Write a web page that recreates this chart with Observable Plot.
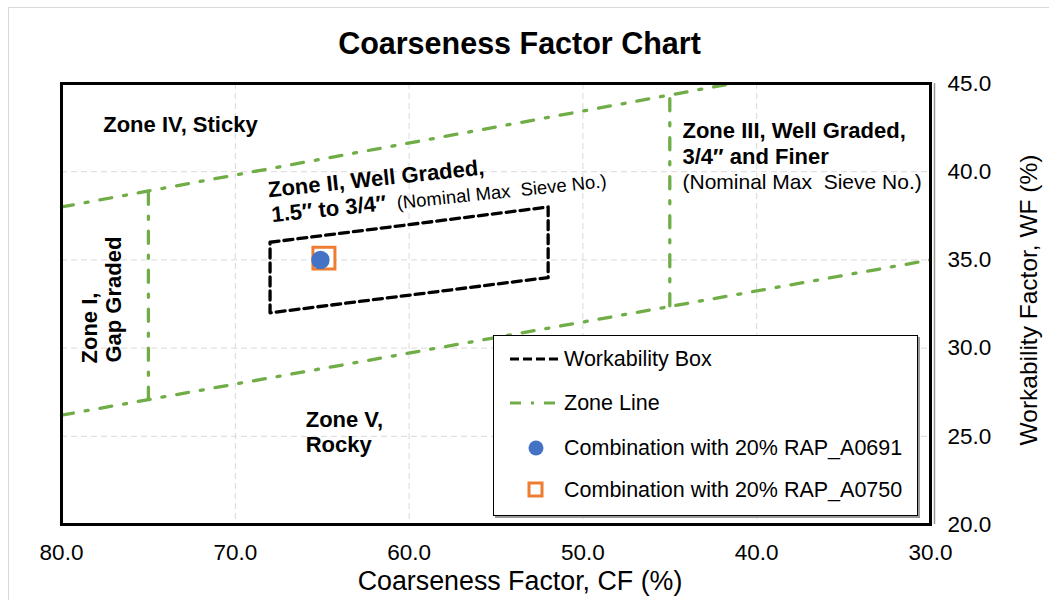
<!DOCTYPE html>
<html>
<head>
<meta charset="utf-8">
<script src="https://cdn.jsdelivr.net/npm/d3@7"></script>
<script src="https://cdn.jsdelivr.net/npm/@observablehq/plot@0.6"></script>
<style>
  html, body { margin: 0; padding: 0; background: #fff; }
  #wrap { position: relative; width: 1049px; height: 600px; overflow: hidden; font-family: 'Liberation Sans', Arial, sans-serif; }
  #outer { position: absolute; left: 8px; top: 7px; width: 1060px; height: 620px; border: 1px solid #d9d9d9; box-sizing: border-box; pointer-events: none; }
  #legend { position: absolute; left: 493px; top: 335px; width: 425px; height: 181px; box-sizing: border-box; border: 1.5px solid #000; background: #fff; box-shadow: 2px 2px 0 #999; }
  .lrow { position: absolute; left: 15px; height: 30px; display: flex; align-items: center; font-size: 21.5px; color: #000; white-space: nowrap; }
  .lrow svg { flex: none; margin-right: 3px; }
</style>
</head>
<body>
<div id="wrap">
  <div id="outer"></div>
  <div id="chart"></div>
  <div id="legend"></div>
</div>
<script>
// ---------- data ----------
const xTicks = [80, 70, 60, 50, 40, 30];
const yTicks = [20, 25, 30, 35, 40, 45];

// Workability box (CF, WF)
const boxCF = [68, 52, 52, 68, 68];
const boxWF = [36, 38, 34, 32, 36];

// Zone lines, each a segment
const zoneSeg = ["upper", "upper", "lower", "lower", "left", "left", "right", "right"];
const zoneCF  = [80, 41.4, 80, 30, 75, 75, 45, 45];
const zoneWF  = [38.0, 45.0, 26.2, 35.0, 27.1, 38.9, 32.4, 44.3];

// Mixture points
const seriesNames = ["Workability Box", "Zone Line", "Combination with 20% RAP_A0691", "Combination with 20% RAP_A0750"];
const a0691CF = [65.1], a0691WF = [35.0];
const a0750CF = [64.9], a0750WF = [35.1];

// Zone annotations
const boldLabels = ["Zone IV, Sticky", "Zone III, Well Graded,", "3/4″ and Finer", "Zone V,", "Rocky"];
const boldCF = [77.6, 44.27, 44.27, 65.95, 65.95];
const boldWF = [42.24, 41.92, 40.45, 25.5, 24.1];

const zone2Labels = ["Zone II, Well Graded,", "1.5″ to 3/4″"];
const zone2CF = [68.07, 67.87];
const zone2WF = [38.55, 37.14];
const zone2Note = ["(Nominal Max  Sieve No.)"]; const zone2NoteCF = [60.67]; const zone2NoteWF = [37.88];

const zone3Note = ["(Nominal Max  Sieve No.)"]; const zone3NoteCF = [44.27]; const zone3NoteWF = [39.03];

const zone1Labels = ["Zone I,", "Gap Graded"];
const zone1CF = [77.93, 76.55];
const zone1WF = [29.13, 29.18];

// ---------- build tables ----------
const box = boxCF.map((c, i) => ({cf: c, wf: boxWF[i]}));
const zones = zoneCF.map((c, i) => ({cf: c, wf: zoneWF[i], seg: zoneSeg[i]}));
const p0691 = a0691CF.map((c, i) => ({cf: c, wf: a0691WF[i]}));
const p0750 = a0750CF.map((c, i) => ({cf: c, wf: a0750WF[i]}));
const toRows = (t, c, w) => t.map((s, i) => ({t: s, cf: c[i], wf: w[i]}));

const GREEN = "#70AD47", ORANGE = "#ED7D31", BLUE = "#4472C4";
const FONT = "'Liberation Sans', Arial, sans-serif";
const fmt = d => d.toFixed(1);

const chart = Plot.plot({
  width: 1049, height: 600,
  marginTop: 83, marginBottom: 76, marginLeft: 61, marginRight: 119,
  style: {fontFamily: FONT, fontSize: "22.5px", color: "#000", background: "transparent", overflow: "visible"},
  x: {domain: [80, 30]},
  y: {domain: [20, 45]},
  marks: [
    Plot.gridX(xTicks.slice(1, -1), {stroke: "#d9d9d9", strokeOpacity: 1, strokeDasharray: "6,4"}),
    Plot.gridY(yTicks.slice(1, -1), {stroke: "#d9d9d9", strokeOpacity: 1, strokeDasharray: "6,4"}),
    Plot.axisX(xTicks, {tickSize: 0, tickPadding: 20, tickFormat: fmt, label: null, fontSize: 22.5}),
    Plot.axisY(yTicks, {anchor: "right", tickSize: 0, tickPadding: 17, tickFormat: fmt, label: null, fontSize: 22.5}),
    Plot.line(zones, {x: "cf", y: "wf", z: "seg", stroke: GREEN, strokeWidth: 3.3, strokeDasharray: "12,12,3,12"}),
    Plot.line(box, {x: "cf", y: "wf", stroke: "#000", strokeWidth: 3.3, strokeDasharray: "9,5"}),
    Plot.dot(p0750, {x: "cf", y: "wf", symbol: "square", r: 12.4, stroke: ORANGE, fill: "#fff", strokeWidth: 3}),
    Plot.dot(p0691, {x: "cf", y: "wf", r: 9.2, fill: BLUE}),
    Plot.ruleX([30], {dx: 4, stroke: "#999", strokeWidth: 1.5}),
    Plot.frame({stroke: "#000", strokeWidth: 3}),
    // labels
    Plot.text(toRows(boldLabels, boldCF, boldWF), {x: "cf", y: "wf", text: "t", textAnchor: "start", lineAnchor: "bottom", fontWeight: "bold", fontSize: 22, fill: "#000"}),
    Plot.text(toRows(zone2Labels, zone2CF, zone2WF), {x: "cf", y: "wf", text: "t", textAnchor: "start", lineAnchor: "bottom", fontWeight: "bold", fontSize: 22, rotate: -6, fill: "#000"}),
    Plot.text(toRows(zone2Note, zone2NoteCF, zone2NoteWF), {x: "cf", y: "wf", text: "t", textAnchor: "start", lineAnchor: "bottom", fontSize: 18.5, rotate: -6, fill: "#000"}),
    Plot.text(toRows(zone3Note, zone3NoteCF, zone3NoteWF), {x: "cf", y: "wf", text: "t", textAnchor: "start", lineAnchor: "bottom", fontSize: 21, fill: "#000"}),
    Plot.text(toRows(zone1Labels, zone1CF, zone1WF), {x: "cf", y: "wf", text: "t", textAnchor: "start", lineAnchor: "bottom", fontWeight: "bold", fontSize: 22, rotate: -90, fill: "#000"}),
    // title and axis titles
    Plot.text(["Coarseness Factor Chart"], {frameAnchor: "top", dx: 23.5, dy: -30, textAnchor: "middle", lineAnchor: "bottom", fontSize: 30.5, fontWeight: "bold", fill: "#000"}),
    Plot.text(["Coarseness Factor, CF (%)"], {frameAnchor: "bottom", dx: 24, dy: 65, textAnchor: "middle", lineAnchor: "bottom", fontSize: 26.8, fill: "#000"}),
    Plot.text(["Workability Factor, WF (%)"], {frameAnchor: "right", dx: 106, dy: -4, textAnchor: "middle", rotate: -90, lineAnchor: "bottom", fontSize: 24.5, fill: "#000"})
  ]
});
document.getElementById("chart").appendChild(chart);

// ---------- legend ----------
const legend = document.getElementById("legend");
const swatches = [
  `<svg width="52" height="20"><line x1="1" x2="51" y1="10" y2="10" stroke="#000" stroke-width="3" stroke-dasharray="9,4"/></svg>`,
  `<svg width="52" height="20"><line x1="1" x2="51" y1="10" y2="10" stroke="${GREEN}" stroke-width="3" stroke-dasharray="11,10,3,10"/></svg>`,
  `<svg width="52" height="20"><circle cx="27" cy="10" r="7.5" fill="${BLUE}"/></svg>`,
  `<svg width="52" height="20"><rect x="20" y="3" width="13" height="13" fill="#fff" stroke="${ORANGE}" stroke-width="3"/></svg>`
];
const rowCenters = [23, 67, 112, 154];
seriesNames.forEach((name, i) => {
  const row = document.createElement("div");
  row.className = "lrow";
  row.style.top = (rowCenters[i] - 15) + "px";
  row.innerHTML = swatches[i] + `<span>${name}</span>`;
  legend.appendChild(row);
});
</script>
</body>
</html>
